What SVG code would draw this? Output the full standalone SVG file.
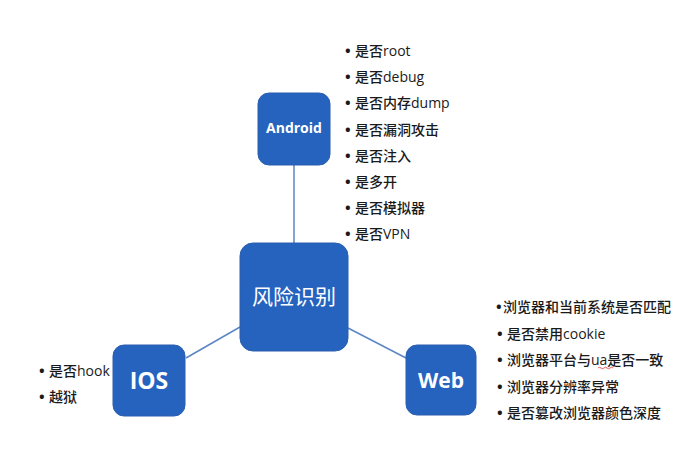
<svg xmlns="http://www.w3.org/2000/svg" width="700" height="449" viewBox="0 0 700 449">
<style>
.box{fill:#2563be;stroke:#2a5fae;stroke-width:1}
.lbl{fill:#ffffff;font-family:"Open Sans","Noto Sans CJK SC",sans-serif;text-anchor:middle}
.item{fill:#1a1a1a;font-family:"Open Sans","Noto Sans CJK SC",sans-serif;font-size:14px;font-weight:500}
.b{font-weight:bold;font-size:15px}
.conn{stroke:#5b86c6;stroke-width:1.5;fill:none}
</style>
<rect width="700" height="449" fill="#ffffff"/>
<g id="connectors">
<line class="conn" x1="294" y1="165" x2="294" y2="243"/>
<line class="conn" x1="186" y1="358" x2="240" y2="327"/>
<line class="conn" x1="348" y1="328" x2="406" y2="358"/>
</g>
<g id="center">
<rect class="box" x="240" y="243" width="108" height="108" rx="13"/>
<text class="lbl" x="294" y="304" font-size="21" font-family="Noto Sans CJK SC,sans-serif">风险识别</text>
</g>
<g id="android">
<rect class="box" x="258" y="93" width="72" height="72" rx="11"/>
<text class="lbl" x="294" y="133" font-size="14" font-weight="bold">Android</text>
</g>
<g id="ios">
<rect class="box" x="113" y="345" width="72" height="71" rx="11"/>
<text class="lbl" x="149" y="389" font-size="23" font-weight="bold">IOS</text>
</g>
<g id="web">
<rect class="box" x="406" y="345" width="70" height="70" rx="11"/>
<text class="lbl" x="441" y="388" font-size="21" font-weight="bold">Web</text>
</g>
<g id="android-list" class="item">
<text y="56"><tspan class="b" x="345">•</tspan><tspan x="355">是否root</tspan></text>
<text y="82.2"><tspan class="b" x="345">•</tspan><tspan x="355">是否debug</tspan></text>
<text y="108.4"><tspan class="b" x="345">•</tspan><tspan x="355">是否内存dump</tspan></text>
<text y="134.6"><tspan class="b" x="345">•</tspan><tspan x="355">是否漏洞攻击</tspan></text>
<text y="160.8"><tspan class="b" x="345">•</tspan><tspan x="355">是否注入</tspan></text>
<text y="187"><tspan class="b" x="345">•</tspan><tspan x="355">是多开</tspan></text>
<text y="213.2"><tspan class="b" x="345">•</tspan><tspan x="355">是否模拟器</tspan></text>
<text y="239.4"><tspan class="b" x="345">•</tspan><tspan x="355">是否VPN</tspan></text>
</g>
<g id="ios-list" class="item">
<text y="376"><tspan class="b" x="39">•</tspan><tspan x="49">是否hook</tspan></text>
<text y="402"><tspan class="b" x="39">•</tspan><tspan x="49">越狱</tspan></text>
</g>
<g id="web-list" class="item">
<text y="312"><tspan class="b" x="496">•</tspan><tspan x="503">浏览器和当前系统是否匹配</tspan></text>
<text y="338.5"><tspan class="b" x="497">•</tspan><tspan x="507">是否禁用cookie</tspan></text>
<text y="365"><tspan class="b" x="497">•</tspan><tspan x="507">浏览器平台与ua是否一致</tspan></text>
<text y="391.5"><tspan class="b" x="497">•</tspan><tspan x="507">浏览器分辨率异常</tspan></text>
<text y="418"><tspan class="b" x="497">•</tspan><tspan x="507">是否篡改浏览器颜色深度</tspan></text>
</g>
<path d="M598 368 q1.5 -1.5 3 0 t3 0 t3 0 t3 0 t3 0" fill="none" stroke="#e03030" stroke-width="0.8"/>
</svg>
